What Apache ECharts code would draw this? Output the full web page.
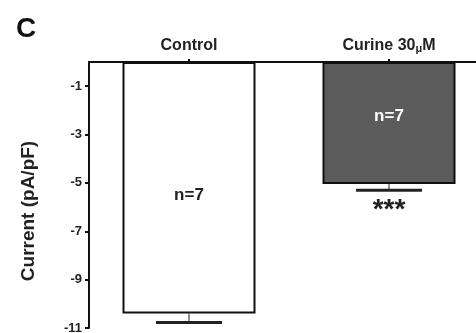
<!DOCTYPE html>
<html><head><meta charset="utf-8">
<script src="https://cdn.jsdelivr.net/npm/echarts@6/dist/echarts.min.js"></script>
<style>html,body{margin:0;padding:0;background:#fff}#c{width:476px;height:333px}</style>
</head><body><div id="c"></div>
<script>
const categories = ['Control', 'Curine 30μM'];
const means = [-10.4, -5.05];
const sems = [0.37, 0.25];
const nLabels = ['n=7', 'n=7'];
const sigMarks = ['', '***'];
const yTicks = [-1, -3, -5, -7, -9, -11];

const chart = echarts.init(document.getElementById('c'), null, {renderer: 'canvas'});
const font = 'Arial, "Liberation Sans", sans-serif';
chart.setOption({
  animation: false,
  backgroundColor: '#fff',
  title: {text: 'C', left: 11, top: 10, textStyle: {fontFamily: font, fontSize: 28, fontWeight: 'bold', color: '#111'}},
  grid: {left: 89, top: 62, width: 400, height: 266, containLabel: false, outerBoundsMode: 'none'},
  xAxis: {
    type: 'category', data: categories, position: 'top',
    axisLine: {lineStyle: {color: '#111', width: 2}},
    axisTick: {show: true, alignWithLabel: true, length: 3, lineStyle: {color: '#111', width: 2}},
    axisLabel: {
      margin: 8,
      formatter: v => v === 'Curine 30μM' ? '{a|Curine 30}{m|μ}{a|M}' : '{a|' + v + '}',
      rich: {a: {fontFamily: font, fontSize: 16, fontWeight: 'bold', color: '#222'},
             m: {fontFamily: font, fontSize: 11, fontWeight: 'bold', color: '#222', verticalAlign: 'bottom', padding: [6,0,0,0]}}
    }
  },
  yAxis: {
    type: 'value', min: -11, max: 0,
    name: 'Current (pA/pF)', nameLocation: 'middle', nameGap: 51,
    nameTextStyle: {fontFamily: font, fontSize: 19, fontWeight: 'bold', color: '#222', padding: [0, 32, 0, 0]},
    axisLine: {show: true, lineStyle: {color: '#111', width: 2}},
    axisTick: {show: true, length: 4, customValues: yTicks, lineStyle: {color: '#111', width: 2}},
    axisLabel: {customValues: yTicks, fontFamily: font, fontSize: 13, fontWeight: 'bold', color: '#222', margin: 7},
    splitLine: {show: false}
  },
  series: [
    {
      type: 'bar', barWidth: 133,
      data: means.map((v, i) => ({
        value: v,
        itemStyle: {color: i === 0 ? '#ffffff' : '#5c5c5c', borderColor: '#111', borderWidth: 2},
        label: {show: true, position: 'inside', formatter: nLabels[i], offset: i === 0 ? [0, 8] : [0, -7],
                fontFamily: font, fontSize: 17, fontWeight: 'bold', color: i === 0 ? '#222' : '#fff'}
      }))
    },
    {
      type: 'custom', z: 5,
      data: means.map((v, i) => [i, v, sems[i]]),
      renderItem: (params, api) => {
        const i = api.value(0), m = api.value(1), e = api.value(2);
        const p0 = api.coord([i, m]);
        const p1 = api.coord([i, m - e]);
        const hw = 33;
        const children = [
          {type: 'line', shape: {x1: p0[0], y1: p0[1], x2: p1[0], y2: p1[1]}, style: {stroke: '#222', lineWidth: 1}},
          {type: 'line', shape: {x1: p1[0] - hw, y1: p1[1], x2: p1[0] + hw, y2: p1[1]}, style: {stroke: '#222', lineWidth: 3}}
        ];
        if (sigMarks[params.dataIndex]) {
          children.push({type: 'text', style: {text: sigMarks[params.dataIndex], x: p1[0], y: p1[1] + 6,
            align: 'center', verticalAlign: 'top', fill: '#222', font: 'bold 28px ' + font}});
        }
        return {type: 'group', children};
      }
    }
  ]
});
</script></body></html>
